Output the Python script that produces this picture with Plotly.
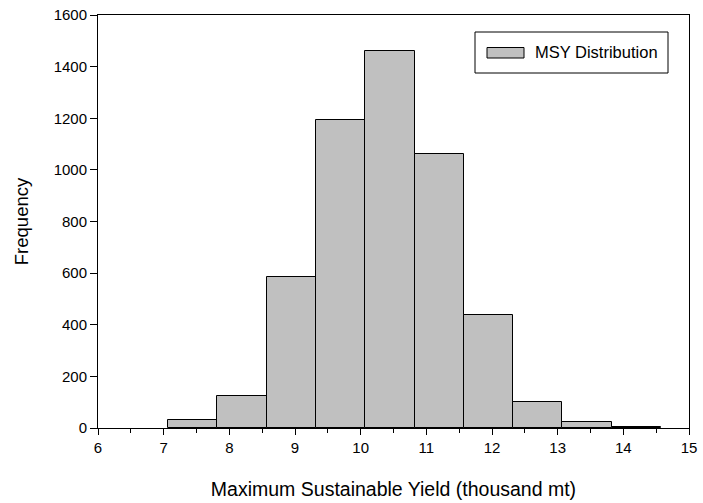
import plotly.graph_objects as go

# Histogram of simulated MSY values (thousand metric tons)
bin_edges = [7.06, 7.81, 8.57, 9.32, 10.07, 10.82, 11.57, 12.32, 13.07, 13.82, 14.57]
frequency = [30, 125, 586, 1192, 1462, 1062, 438, 100, 22, 5]
series_name = "MSY Distribution"

x_ticks = [6, 7, 8, 9, 10, 11, 12, 13, 14, 15]
y_ticks = [0, 200, 400, 600, 800, 1000, 1200, 1400, 1600]

centers = [(a + b) / 2 for a, b in zip(bin_edges[:-1], bin_edges[1:])]
widths = [b - a for a, b in zip(bin_edges[:-1], bin_edges[1:])]

FONT = "Liberation Sans, Arial, sans-serif"
BAR_FILL = "#c0c0c0"

fig = go.Figure()
fig.add_trace(go.Bar(
    x=centers, y=frequency, width=widths,
    marker=dict(color=BAR_FILL, line=dict(color="black", width=1)),
    name=series_name, showlegend=False,
))

fig.update_layout(
    width=703, height=503,
    margin=dict(l=98, r=14, t=15, b=75),
    paper_bgcolor="white", plot_bgcolor="white",
    font=dict(family=FONT, size=15, color="black"),
    bargap=0,
)

fig.update_xaxes(
    range=[6, 15], tickvals=x_ticks, ticks="outside", ticklen=6, tickwidth=1,
    tickcolor="black", showline=True, linecolor="black", linewidth=1, mirror=True,
    showgrid=False, zeroline=False, automargin=False,
    minor=dict(dtick=0.5, ticks="outside", ticklen=4, tickcolor="black", showgrid=False),
    title=dict(text="Maximum Sustainable Yield (thousand mt)", font=dict(size=19.5), standoff=27),
    tickfont=dict(size=15),
)
fig.update_yaxes(
    range=[0, 1600], tickvals=y_ticks, ticks="outside", ticklen=7, tickwidth=1,
    tickcolor="black", showline=True, linecolor="black", linewidth=1, mirror=True,
    showgrid=False, zeroline=False, automargin=False,
    title=dict(text="Frequency", font=dict(size=18.5), standoff=20),
    tickfont=dict(size=15),
)

# Legend box drawn in paper coordinates
def px_x(p):
    return (p - 98) / (703 - 98 - 14)

def px_y(p):
    return 1 - (p - 15) / (503 - 15 - 75)

fig.add_shape(type="rect", xref="paper", yref="paper",
              x0=px_x(475), x1=px_x(668), y0=px_y(73), y1=px_y(32),
              line=dict(color="black", width=1), fillcolor="white", layer="above")
fig.add_shape(type="rect", xref="paper", yref="paper",
              x0=px_x(487), x1=px_x(524), y0=px_y(58), y1=px_y(47.5),
              line=dict(color="black", width=1), fillcolor=BAR_FILL, layer="above")
fig.add_annotation(xref="paper", yref="paper", x=px_x(533), y=px_y(52.5),
                   text=series_name, showarrow=False, xanchor="left", yanchor="middle",
                   font=dict(size=16.5, family=FONT, color="black"))

fig.write_html("out.html")
